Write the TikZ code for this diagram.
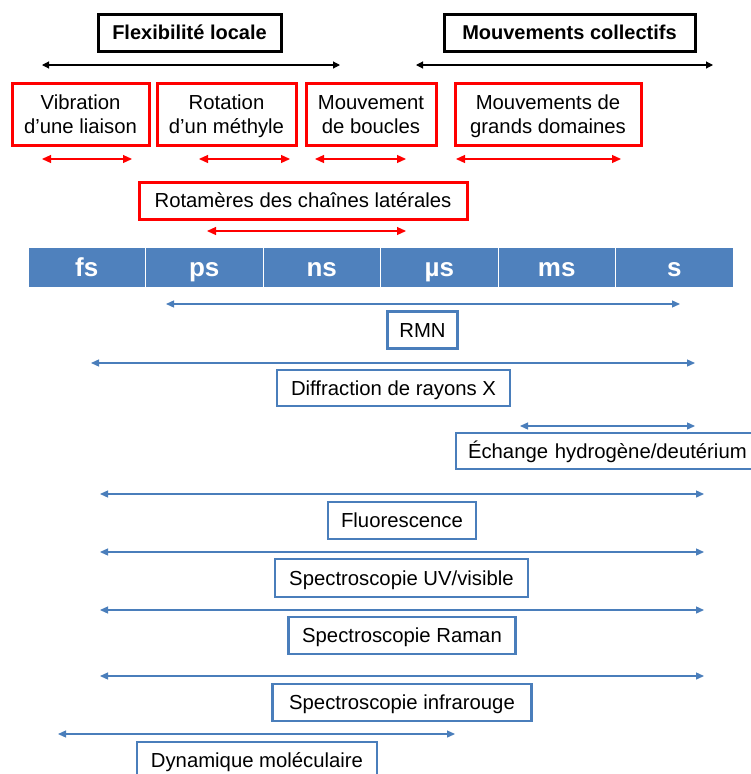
\documentclass[tikz,border=0pt]{standalone}
\usepackage{fontspec}
\setmainfont{Liberation Sans}
\usetikzlibrary{arrows.meta}
\definecolor{barblue}{HTML}{4F81BD}
\definecolor{lineblue}{HTML}{4A7EBB}
\definecolor{redc}{HTML}{FF0000}
\tikzset{
  txt/.style={font=\fontsize{20.3}{23.5}\selectfont, align=center, inner sep=0pt},
  oneline/.style={text height=14.5pt, text depth=0pt},
  twoline/.style={text height=38pt, text depth=0pt},
  blackbox/.style={txt, draw=black, line width=3pt, text height=14.3pt, text depth=0pt, font=\fontsize{20}{24}\selectfont\bfseries},
  redbox/.style={txt, draw=redc, line width=3pt},
  bluebox/.style={txt, oneline, draw=lineblue, line width=2.7pt},
  cell/.style={fill=barblue, draw=white, line width=1pt, minimum width=117.5pt, minimum height=40pt, inner sep=0pt, text=white, text height=18.6pt, text depth=0pt, font=\fontsize{26}{30}\selectfont\bfseries},
  blackarr/.style={line width=1.1pt, black, {Triangle[length=7pt,width=7pt]}-{Triangle[length=7pt,width=7pt]}},
  redarr/.style={line width=1.2pt, redc, {Triangle[length=9pt,width=8pt]}-{Triangle[length=9pt,width=8pt]}},
  bluearr/.style={line width=1.3pt, lineblue, {Triangle[length=8pt,width=7pt]}-{Triangle[length=8pt,width=7pt]}},
}
\begin{document}
\begin{tikzpicture}[x=1pt,y=-1pt]
\useasboundingbox (0,0) rectangle (751,774);
\clip (0,0) rectangle (751,774);
% top black boxes
\node[blackbox, minimum width=183pt, minimum height=37pt] (flex) at (189.5,32.5) {Flexibilité locale};
\node[blackbox, minimum width=251pt, minimum height=37pt] (coll) at (569.5,32.5) {Mouvements collectifs};
\coordinate (fa) at (42,65); \coordinate (fb) at (340,65);
\coordinate (ca) at (416,65); \coordinate (cb) at (713,65);
\draw[blackarr] (fa) -- (fb);
\draw[blackarr] (ca) -- (cb);
% red boxes
\node[redbox, twoline, minimum width=137pt, minimum height=62pt] (vib) at (80.5,114) {Vibration\\d’une liaison};
\node[redbox, twoline, minimum width=139pt, minimum height=62pt] (rot) at (226.5,114) {Rotation\\d’un méthyle};
\node[redbox, twoline, minimum width=130pt, minimum height=62pt] (bou) at (371,114) {Mouvement\\de boucles};
\node[redbox, twoline, minimum width=186pt, minimum height=62pt] (dom) at (548,114) {Mouvements de\\grands domaines};
\coordinate (r1a) at (42,159); \coordinate (r1b) at (132,159);
\coordinate (r2a) at (199,159); \coordinate (r2b) at (290,159);
\coordinate (r3a) at (315,159); \coordinate (r3b) at (406,159);
\coordinate (r4a) at (456,159); \coordinate (r4b) at (621,159);
\draw[redarr] (r1a) -- (r1b);
\draw[redarr] (r2a) -- (r2b);
\draw[redarr] (r3a) -- (r3b);
\draw[redarr] (r4a) -- (r4b);
\node[redbox, oneline, minimum width=328pt, minimum height=37pt] (rota) at (303,200.5) {Rotamères des chaînes latérales};
\coordinate (r5a) at (207,231); \coordinate (r5b) at (406,231);
\draw[redarr] (r5a) -- (r5b);
% time bar
\node[cell] (fs) at (86.75,267.5) {fs};
\node[cell] (ps) at (204.25,267.5) {ps};
\node[cell] (ns) at (321.75,267.5) {ns};
\node[cell] (us) at (439.25,267.5) {µs};
\node[cell] (ms) at (556.75,267.5) {ms};
\node[cell] (s) at (674.25,267.5) {s};
% techniques
\coordinate (b1a) at (166,304); \coordinate (b1b) at (680,304);
\draw[bluearr] (b1a) -- (b1b);
\node[bluebox, minimum width=70pt, minimum height=37pt] (rmn) at (422.5,330) {RMN};
\coordinate (b2a) at (91,363); \coordinate (b2b) at (695,363);
\draw[bluearr] (b2a) -- (b2b);
\node[bluebox, minimum width=233pt, minimum height=36pt] (dif) at (393.5,388) {Diffraction de rayons X};
\coordinate (b3a) at (520,426); \coordinate (b3b) at (695,426);
\draw[bluearr] (b3a) -- (b3b);
\node[bluebox, minimum width=300pt, minimum height=36pt, text width=300pt, align=left] (ech) at (606,451) {\hspace*{12pt}Échange hydrogène/deutérium};
\coordinate (b4a) at (100,494); \coordinate (b4b) at (704,494);
\draw[bluearr] (b4a) -- (b4b);
\node[bluebox, minimum width=148pt, minimum height=37pt] (flu) at (402,520.5) {Fluorescence};
\coordinate (b5a) at (100,552); \coordinate (b5b) at (704,552);
\draw[bluearr] (b5a) -- (b5b);
\node[bluebox, minimum width=253pt, minimum height=38pt] (uv) at (401.5,578) {Spectroscopie UV/visible};
\coordinate (b6a) at (100,610); \coordinate (b6b) at (704,610);
\draw[bluearr] (b6a) -- (b6b);
\node[bluebox, minimum width=227pt, minimum height=37pt] (ram) at (402,635.5) {Spectroscopie Raman};
\coordinate (b7a) at (100,676); \coordinate (b7b) at (704,676);
\draw[bluearr] (b7a) -- (b7b);
\node[bluebox, minimum width=259pt, minimum height=37pt] (ir) at (402,702.5) {Spectroscopie infrarouge};
\coordinate (b8a) at (58,734); \coordinate (b8b) at (455,734);
\draw[bluearr] (b8a) -- (b8b);
\node[bluebox, minimum width=240pt, minimum height=37pt] (dyn) at (257,760.5) {Dynamique moléculaire};
\end{tikzpicture}
\end{document}
